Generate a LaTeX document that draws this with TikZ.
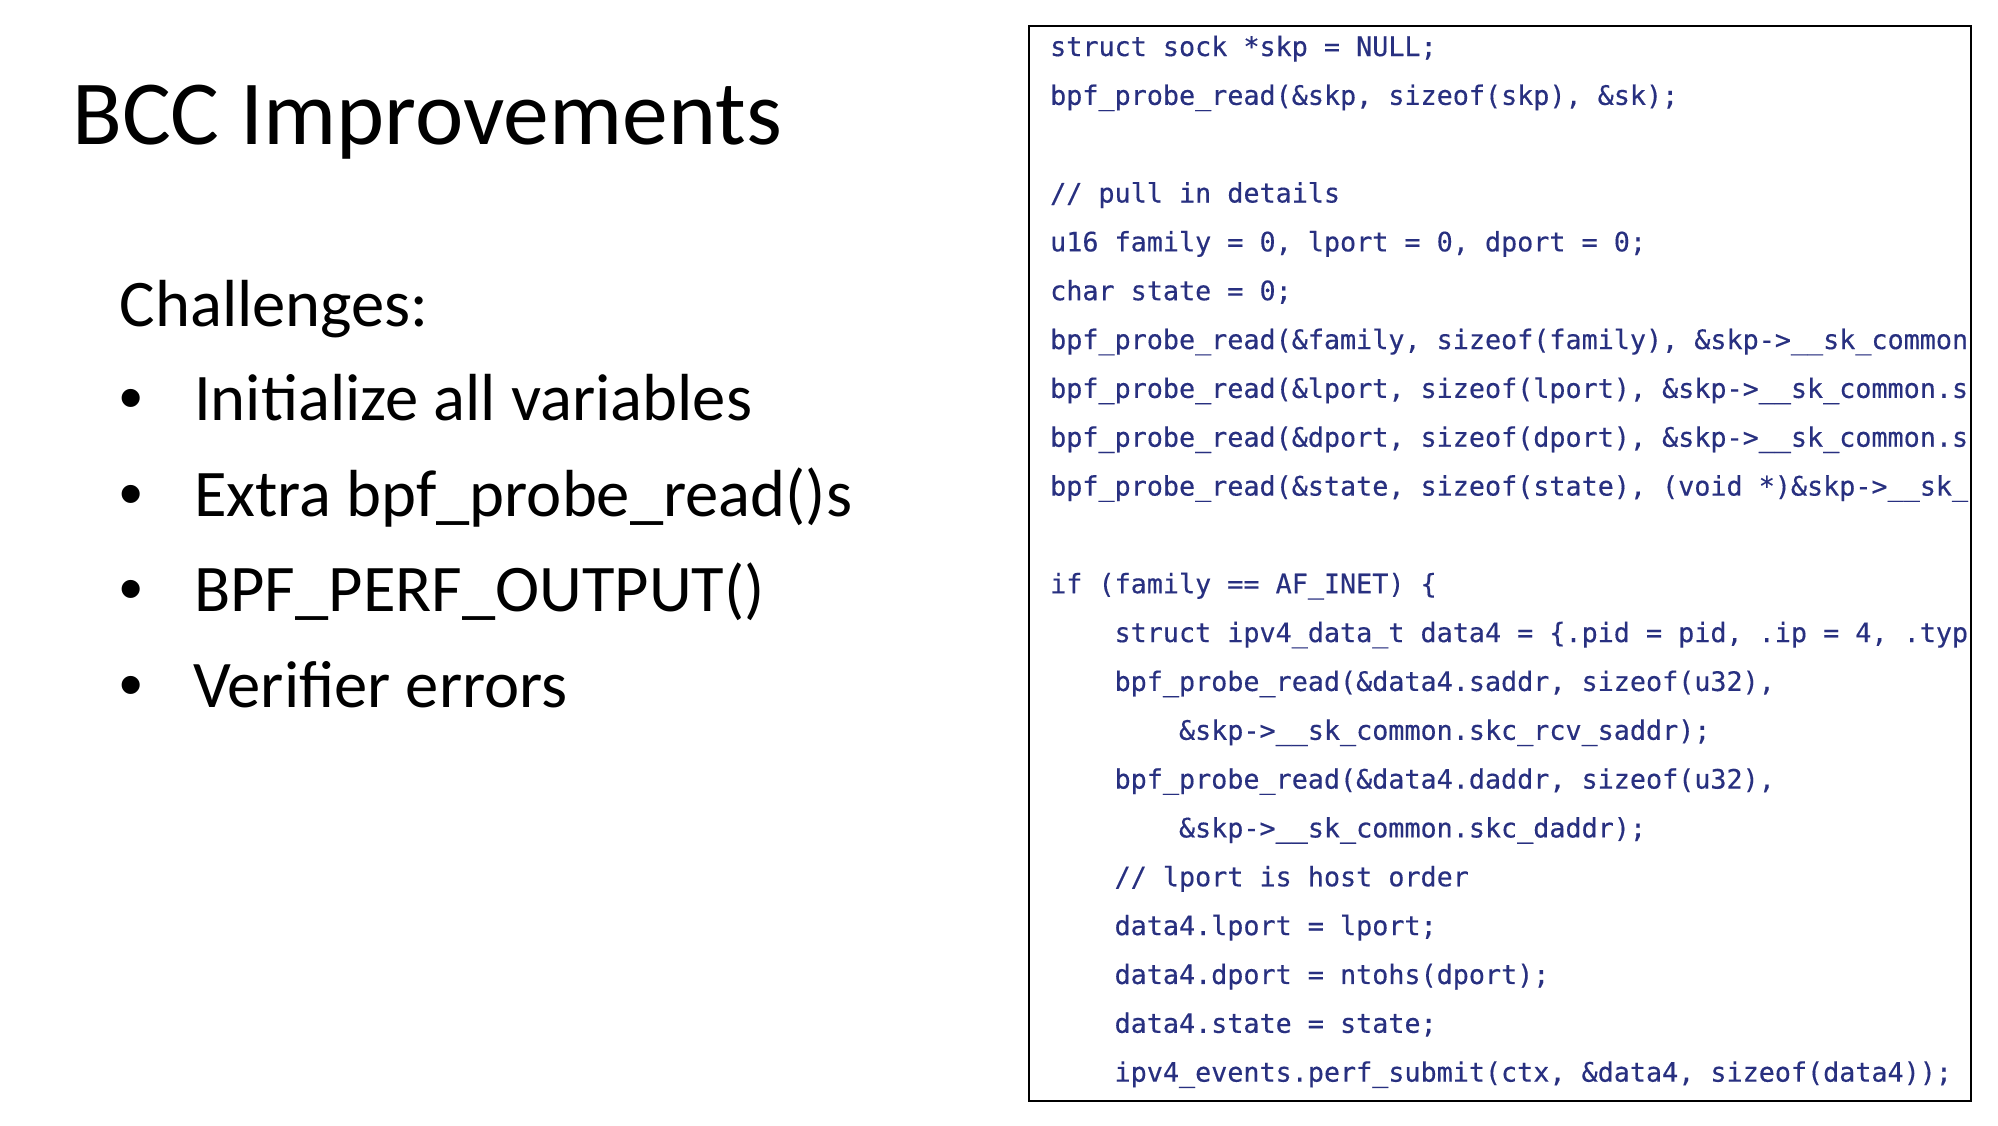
\documentclass[tikz,border=0pt]{standalone}
\usepackage{fontspec}
\setmainfont{Carlito}
\setmonofont[FakeBold=0.35]{DejaVu Sans Mono}
\newfontfamily\bulletfont{Liberation Sans}
\definecolor{codeblue}{RGB}{40,48,128}
\tikzset{
  titletext/.style={anchor=base west, inner sep=0pt, font=\fontsize{91.6}{100}\selectfont},
  bodytext/.style={anchor=base west, inner sep=0pt, font=\fontsize{66.6}{80}\selectfont},
  bulletmark/.style={anchor=base, inner sep=0pt, font=\bulletfont\fontsize{66.6}{80}\selectfont},
  codeline/.style={anchor=base west, inner sep=0pt, text=codeblue, font=\ttfamily\fontsize{26.75}{30}\selectfont},
  codebox/.style={draw=black, line width=2.2pt}
}
\newcommand\codeln[3]{\node[codeline] (c#1) at ({1050+#2*16.1},{56+#1*48.84}) {#3};}
\begin{document}
\begin{tikzpicture}[x=1pt,y=-1pt]
\useasboundingbox[fill=white] (0,0) rectangle (1998,1125);
\node[titletext] (title) at (72,144) {BCC Improvements};
\node[bodytext] (chal) at (119.5,326.7) {Challenges:};
\node[bulletmark] (b1) at (131,420) {•};
\node[bulletmark] (b2) at (131,516.5) {•};
\node[bulletmark] (b3) at (131,611.7) {•};
\node[bulletmark] (b4) at (131,707) {•};
\node[bodytext] (i1) at (194,420) {Initialize all variables};
\node[bodytext] (i2) at (194,516.5) {Extra bpf\_probe\_read()s};
\node[bodytext] (i3) at (194,611.7) {BPF\_PERF\_OUTPUT()};
\node[bodytext] (i4) at (193,707) {Verifier errors};
\begin{scope}
\clip (1029,26) rectangle (1969,1099);
\codeln{0}{0}{struct sock *skp = NULL;}
\codeln{1}{0}{bpf\_probe\_read(\&skp, sizeof(skp), \&sk);}
\codeln{3}{0}{// pull in details}
\codeln{4}{0}{u16 family = 0, lport = 0, dport = 0;}
\codeln{5}{0}{char state = 0;}
\codeln{6}{0}{bpf\_probe\_read(\&family, sizeof(family), \&skp->\_\_sk\_common}
\codeln{7}{0}{bpf\_probe\_read(\&lport, sizeof(lport), \&skp->\_\_sk\_common.s}
\codeln{8}{0}{bpf\_probe\_read(\&dport, sizeof(dport), \&skp->\_\_sk\_common.s}
\codeln{9}{0}{bpf\_probe\_read(\&state, sizeof(state), (void *)\&skp->\_\_sk\_}
\codeln{11}{0}{if (family == AF\_INET) \{}
\codeln{12}{4}{struct ipv4\_data\_t data4 = \{.pid = pid, .ip = 4, .typ}
\codeln{13}{4}{bpf\_probe\_read(\&data4.saddr, sizeof(u32),}
\codeln{14}{8}{\&skp->\_\_sk\_common.skc\_rcv\_saddr);}
\codeln{15}{4}{bpf\_probe\_read(\&data4.daddr, sizeof(u32),}
\codeln{16}{8}{\&skp->\_\_sk\_common.skc\_daddr);}
\codeln{17}{4}{// lport is host order}
\codeln{18}{4}{data4.lport = lport;}
\codeln{19}{4}{data4.dport = ntohs(dport);}
\codeln{20}{4}{data4.state = state;}
\codeln{21}{4}{ipv4\_events.perf\_submit(ctx, \&data4, sizeof(data4));}
\end{scope}
\node[codebox, inner sep=0pt, minimum width=942pt, minimum height=1075pt, anchor=north west] (box) at (1028,25) {};
\end{tikzpicture}
\end{document}
